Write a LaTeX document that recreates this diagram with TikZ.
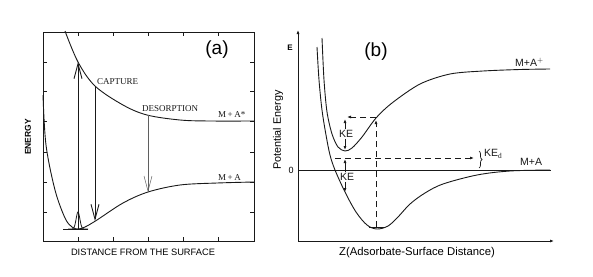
\documentclass[tikz,border=0pt]{standalone}
\usepackage{fontspec}
\setmainfont{Liberation Serif}
\setsansfont{Liberation Sans}
\usetikzlibrary{positioning, arrows.meta, decorations.pathreplacing}
\definecolor{ink}{RGB}{25,25,25}
\definecolor{faint}{RGB}{95,95,95}
\tikzset{
  pes/.style={line width=0.9pt, draw=ink},
  box/.style={line width=0.8pt, draw=ink},
  caps/.style={font=\fontsize{9}{10}\selectfont, inner sep=1pt, text=ink},
  sanslbl/.style={font=\sffamily\fontsize{10.5}{12}\selectfont, inner sep=1pt, text=ink},
  panel/.style={font=\sffamily\fontsize{19}{22}\selectfont, inner sep=0pt},
  transition/.style={line width=0.9pt, draw=ink, -{Straight Barb[length=15pt,width=8pt]}},
  guide/.style={line width=0.8pt, draw=ink, dash pattern=on 6pt off 4pt},
  ketip/.style={line width=0.8pt, draw=ink, -{Latex[length=4pt,width=3pt]}},
}

\begin{document}
\begin{tikzpicture}[x=1pt, y=-1pt]
\useasboundingbox (0,0) rectangle (593,276);

% ---- panel (a)
\draw[box] (43,32) rectangle (254,241);
\foreach \ty in {62,91,121,152,182,212} {
  \draw[box] (43,\ty) -- (47,\ty);
  \draw[box] (254,\ty) -- (250,\ty);
}
\foreach \tx in {78,113,148,183,218} {
  \draw[box] (\tx,32) -- (\tx,36);
  \draw[box] (\tx,241) -- (\tx,237);
}
\node[panel] (lbla) at (217,50) {(a)};
\node[font=\sffamily\bfseries\fontsize{8.5}{10}\selectfont, rotate=90] (energy) at (28,137) {ENERGY};
\node[font=\sffamily\fontsize{9.3}{11}\selectfont] (distance) at (143,252) {DISTANCE FROM THE SURFACE};

% excited and ground curves
\draw[pes] plot[smooth, tension=0.55] coordinates {(65,31) (78,62) (95,86) (123,105) (147,115) (180,120) (210,121) (254,121)};
\draw[pes] plot[smooth, tension=0.55] coordinates {(43,95) (46,145) (55,190) (65,218) (72,227) (78,229) (85,227) (97,220) (123,203) (148,192) (180,185) (217,183) (254,182)};
\draw[line width=0.6pt, ink] (63,229) -- (88,229);
\draw[line width=0.8pt, ink] plot[domain=68:88, samples=41] ({\x},{229-17*exp(-((\x-78)/2.6)^2)});

\coordinate (gnd) at (78,229);
\coordinate (exc) at (78,62);
\coordinate (capt) at (95,86);
\coordinate (captlow) at (95,221);
\coordinate (desp) at (148,115);
\coordinate (desplow) at (148,192);
\draw[transition] (gnd) -- (exc);
\draw[transition] (capt) -- (captlow);
\draw[transition, line width=0.5pt, draw=faint] (desp) -- (desplow);

\node[caps, anchor=west] (capture) at (96,82) {CAPTURE};
\node[caps, anchor=west] (desorption) at (141,109) {DESORPTION};
\node[caps, anchor=west] (mastar) at (217,115) {M\,+\,A*};
\node[caps, anchor=west] (ma) at (217,178) {M\,+\,A};

% ---- panel (b)
\coordinate (origin) at (298,241);
\coordinate (etop) at (298,30);
\coordinate (zend) at (554,241);
\draw[box, -{Latex[length=4pt,width=3pt]}] (origin) -- (etop);
\draw[box, -{Latex[length=4pt,width=3pt]}] (origin) -- (zend);
\node[font=\sffamily\bfseries\fontsize{8}{9}\selectfont] (elbl) at (290,48) {E};
\node[font=\sffamily\fontsize{9}{10}\selectfont] (zero) at (291,170) {0};
\node[font=\sffamily\fontsize{10.8}{12}\selectfont, rotate=90] (potential) at (278,130) {Potential Energy};
\node[font=\sffamily\fontsize{11.3}{13}\selectfont] (zlbl) at (417,253) {Z(Adsorbate-Surface Distance)};
\node[panel] (lblb) at (376,52) {(b)};

\coordinate (zeroleft) at (298,170);
\coordinate (zeroright) at (551,170);
\draw[pes] (zeroleft) -- (zeroright);

\draw[pes] plot[smooth, tension=0.5] coordinates {(322,38) (324,80) (327,112) (332,134) (338,147) (345,151) (352,148) (362,137) (376,118) (392,103) (420,84) (450,74) (483,71) (520,69.5) (550,69)};
\draw[pes] plot[smooth, tension=0.55] coordinates {(317,47) (319,80) (322,110) (326,135) (330,155) (335,170) (345,192) (356,212) (367,225) (377,229) (388,226) (398,217) (410,204) (425,193) (443,184) (477,175) (510,171) (550,170)};
\draw[line width=0.6pt, ink] (369,227) -- (385,227);

\node[sanslbl, anchor=west] (mion) at (514,62) {M+A$^{+}$};
\node[sanslbl, anchor=west] (mab) at (519,162) {M+A};

% dashed guides
\coordinate (wellbot) at (376,227);
\coordinate (crossup) at (376,120);
\coordinate (crossleft) at (376,117);
\coordinate (turnleft) at (347,117);
\coordinate (levelstart) at (335,158);
\coordinate (levelend) at (474,158);
\draw[guide, -{Latex[length=4pt,width=3pt]}] (wellbot) -- (crossup);
\draw[guide, -{Latex[length=4pt,width=3pt]}] (crossleft) -- (turnleft);
\draw[guide, -{Latex[length=4pt,width=3pt]}] (levelstart) -- (levelend);

% kinetic energy markers
\node[sanslbl] (keup) at (346,134) {KE};
\coordinate (keuptop) at (345,119);
\coordinate (keupbot) at (345,150);
\draw[ketip] (keup.north -| keuptop) -- (keuptop);
\draw[ketip] (keup.south -| keupbot) -- (keupbot);
\node[sanslbl] (kelow) at (347,177) {KE};
\coordinate (kelowtop) at (345,159);
\coordinate (kelowbot) at (345,192);
\draw[ketip] (kelow.north -| kelowtop) -- (kelowtop);
\draw[ketip] (kelow.south -| kelowbot) -- (kelowbot);

\coordinate (bracetop) at (479,151);
\coordinate (bracebot) at (479,168);
\draw[line width=0.7pt, ink, decorate, decoration={brace, amplitude=3pt}] (bracetop) -- (bracebot);
\node[sanslbl, anchor=west] (ked) at (483,154) {KE$_{\mathrm{d}}$};
\end{tikzpicture}
\end{document}
